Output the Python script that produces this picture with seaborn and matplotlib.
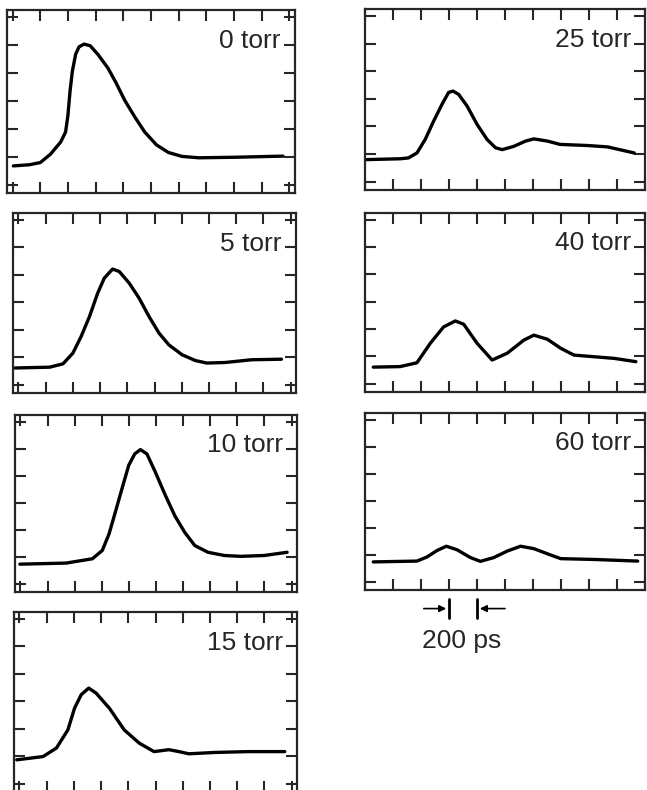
import matplotlib
matplotlib.use("Agg")
import matplotlib.pyplot as plt
from matplotlib.transforms import blended_transform_factory
import seaborn as sns

sns.set_style("ticks")
plt.rcParams["font.family"] = ["Liberation Sans", "DejaVu Sans"]

# streak camera traces, time in ps, signal in vertical divisions
t_0torr = [6, 120, 201, 274, 347, 383, 400, 415, 432, 456, 480, 517, 561, 615, 688, 748, 809,
           882, 955, 1040, 1126, 1223, 1345, 1610, 1953]
s_0torr = [0.67, 0.71, 0.79, 1.09, 1.52, 1.88, 2.48, 3.33, 4.06, 4.67, 4.93, 5.03, 4.97, 4.67, 4.18, 3.64, 3.03,
           2.43, 1.88, 1.42, 1.15, 1.01, 0.96, 0.98, 1.02]

t_5torr = [-26, 230, 327, 400, 461, 522, 582, 631, 692, 741, 814, 887, 960, 1033, 1106, 1203,
           1301, 1385, 1520, 1714, 1933]
s_5torr = [0.61, 0.64, 0.76, 1.15, 1.76, 2.48, 3.33, 3.88, 4.21, 4.12, 3.70, 3.15, 2.48, 1.88, 1.45, 1.09,
           0.88, 0.79, 0.81, 0.91, 0.93]

t_10torr = [-4, 337, 434, 531, 604, 653, 702, 750, 799, 843, 885, 933, 994, 1067, 1140, 1213,
            1286, 1383, 1505, 1626, 1797, 1967]
s_10torr = [0.73, 0.77, 0.85, 0.93, 1.24, 1.84, 2.69, 3.54, 4.39, 4.81, 4.97, 4.81, 4.15, 3.30, 2.51, 1.90,
            1.42, 1.17, 1.05, 1.02, 1.05, 1.17]

t_15torr = [-20, 174, 272, 356, 405, 454, 509, 563, 661, 770, 880, 989, 1099, 1172, 1245, 1439, 1682, 1950]
s_15torr = [0.87, 0.99, 1.30, 1.96, 2.75, 3.24, 3.48, 3.30, 2.75, 1.96, 1.48, 1.17, 1.24, 1.17, 1.09, 1.14,
            1.17, 1.17]

t_25torr = [12, 251, 310, 371, 430, 490, 550, 597, 629, 669, 729, 801, 872, 932, 980, 1063, 1147,
            1206, 1303, 1393, 1589, 1733, 1923]
s_25torr = [0.80, 0.83, 0.86, 1.04, 1.53, 2.19, 2.80, 3.23, 3.28, 3.16, 2.74, 2.07, 1.53, 1.23, 1.16, 1.28,
            1.47, 1.55, 1.47, 1.35, 1.31, 1.26, 1.04]

t_40torr = [59, 251, 371, 466, 561, 645, 705, 801, 908, 1016, 1135, 1206, 1303, 1398, 1493, 1637, 1780, 1935]
s_40torr = [0.61, 0.63, 0.77, 1.48, 2.08, 2.30, 2.18, 1.48, 0.87, 1.12, 1.60, 1.78, 1.63, 1.30, 1.05, 0.99,
            0.93, 0.81]

t_60torr = [59, 371, 442, 514, 581, 657, 753, 824, 920, 1016, 1111, 1206, 1303, 1398, 1637, 1948]
s_60torr = [0.74, 0.77, 0.92, 1.16, 1.32, 1.19, 0.90, 0.76, 0.90, 1.14, 1.32, 1.23, 1.04, 0.86, 0.83, 0.77]

labels = ["0 torr", "5 torr", "10 torr", "15 torr", "25 torr", "40 torr", "60 torr"]
times = [t_0torr, t_5torr, t_10torr, t_15torr, t_25torr, t_40torr, t_60torr]
signals = [s_0torr, s_5torr, s_10torr, s_15torr, s_25torr, s_40torr, s_60torr]

# scale bar: one division = 200 ps
scale_start = 600
scale_len = 200

W, H = 647, 790
fig = plt.figure(figsize=(W / 100, H / 100), dpi=100)

# panel boxes in pixels: left, right, top, bottom
boxes = [
    (7, 295, 10, 193),
    (13, 296, 213, 393),
    (15, 297, 415, 592),
    (14, 297, 612, 792),
    (365, 645, 9, 190),
    (365, 645, 213, 392),
    (365, 645, 413, 590),
]

axes = []
for i, (lab, t, s, box) in enumerate(zip(labels, times, signals, boxes)):
    l, r, top, b = box
    ax = fig.add_axes([l / W, 1 - b / H, (r - l) / W, (b - top) / H])
    sns.lineplot(x=t, y=s, ax=ax, color="black", linewidth=2.4, estimator=None,
                 solid_joinstyle="round", solid_capstyle="round")
    if i < 4:
        ax.set_xlim(-40, 2040)
    else:
        ax.set_xlim(0, 2000)
    ax.set_ylim(-0.3, 6.25)
    ax.set_xticks(range(0, 2001, 200))
    ax.set_yticks(range(0, 7))
    ax.set_xticklabels([])
    ax.set_yticklabels([])
    ax.tick_params(direction="in", length=8, width=1.5, top=True, right=True,
                   bottom=True, left=True)
    for sp in ax.spines.values():
        sp.set_linewidth(1.6)
        sp.set_visible(True)
    ax.set_xlabel("")
    ax.set_ylabel("")
    ax.text(0.95, 0.83, lab, transform=ax.transAxes, ha="right", va="center",
            fontsize=19)
    axes.append(ax)

# 200 ps scale marker under the 60 torr trace
ax = axes[-1]
trans = blended_transform_factory(ax.transData, ax.transAxes)
for xv in (scale_start, scale_start + scale_len):
    ax.plot([xv, xv], [-0.05, -0.16], color="black", lw=2, transform=trans, clip_on=False)
ax.annotate("", xy=(scale_start, -0.105), xytext=(scale_start - 200, -0.105),
            xycoords=trans, textcoords=trans,
            arrowprops=dict(arrowstyle="-|>", color="black", lw=1.2, mutation_scale=10))
ax.annotate("", xy=(scale_start + scale_len, -0.105), xytext=(scale_start + scale_len + 220, -0.105),
            xycoords=trans, textcoords=trans,
            arrowprops=dict(arrowstyle="-|>", color="black", lw=1.2, mutation_scale=10))
ax.text(scale_start + scale_len / 2 - 10, -0.29, "200 ps", transform=trans,
        ha="center", va="center", fontsize=19)

fig.savefig("out.png", dpi=100)
